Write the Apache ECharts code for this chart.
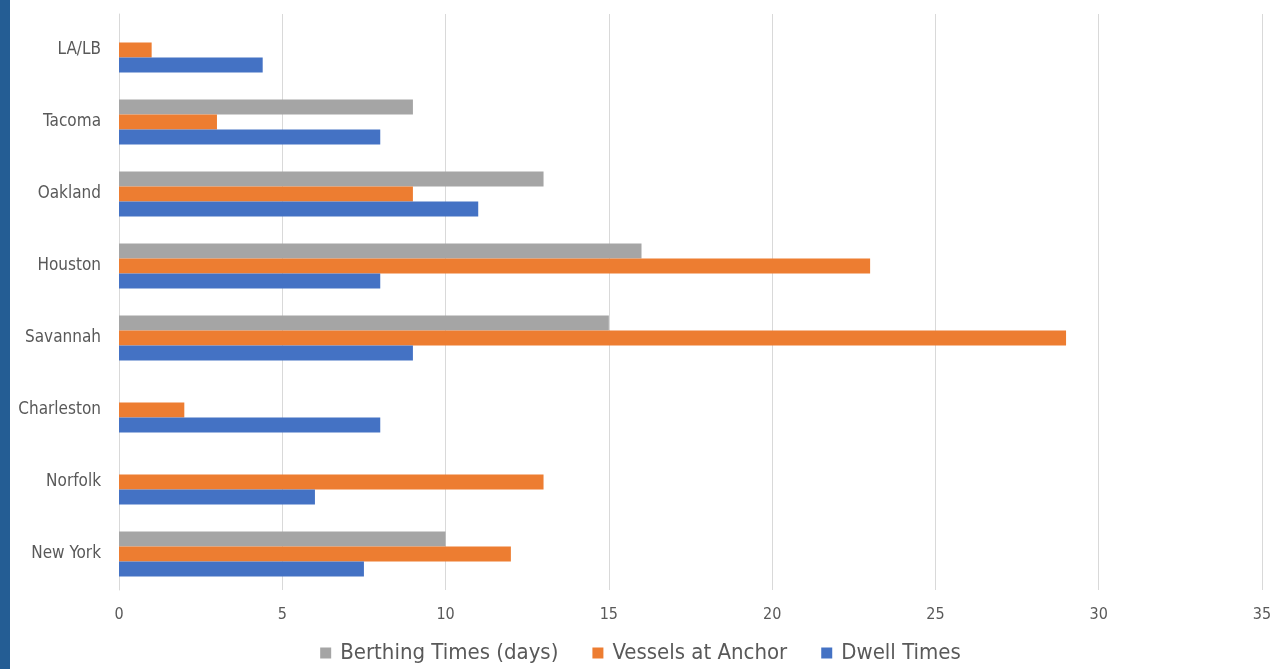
<!DOCTYPE html>
<html>
<head>
<meta charset="utf-8">
<script src="https://cdn.jsdelivr.net/npm/echarts@6/dist/echarts.min.js"></script>
<style>
html,body{margin:0;padding:0;background:#fff;}
#c{width:1281px;height:669px;}
</style>
</head>
<body>
<div id="c"></div>
<script>
const categories = ['New York', 'Norfolk', 'Charleston', 'Savannah', 'Houston', 'Oakland', 'Tacoma', 'LA/LB'];
const berthingTimes = [10, null, null, 15, 16, 13, 9, null];
const vesselsAtAnchor = [12, 13, 2, 29, 23, 9, 3, 1];
const dwellTimes = [7.5, 6, 8, 9, 8, 11, 8, 4.4];
const xTicks = { min: 0, max: 35, interval: 5 };

const FONT = '"Liberation Sans Narrow", "DejaVu Sans Condensed", "Open Sans", sans-serif';
const chart = echarts.init(document.getElementById('c'));
chart.setOption({
  backgroundColor: '#ffffff',
  animation: false,
  graphic: [{ type: 'rect', left: 0, top: 0, shape: { width: 10, height: 669 }, style: { fill: '#245d94' } }],
  grid: { left: 119, right: 19, top: 14, bottom: 79 },
  legend: {
    bottom: 0,
    left: 'center',
    data: ['Berthing Times (days)', 'Vessels at Anchor', 'Dwell Times'],
    itemWidth: 11, itemHeight: 11, itemGap: 34,
    icon: 'rect',
    textStyle: { fontFamily: FONT, fontSize: 22, color: '#595959', padding: [0, 0, 0, 4] }
  },
  xAxis: {
    type: 'value', min: xTicks.min, max: xTicks.max, interval: xTicks.interval,
    axisLine: { show: false }, axisTick: { show: false },
    axisLabel: { fontFamily: FONT, fontSize: 16, color: '#595959', margin: 17 },
    splitLine: { lineStyle: { color: '#d9d9d9', width: 1 } }
  },
  yAxis: {
    type: 'category', data: categories,
    axisLine: { show: true, lineStyle: { color: '#d9d9d9' } }, axisTick: { show: false },
    axisLabel: { fontFamily: FONT, fontSize: 17, color: '#595959', margin: 18 }
  },
  series: [
    { name: 'Berthing Times (days)', type: 'bar', data: berthingTimes, barWidth: 15, barGap: '0%', itemStyle: { color: '#a5a5a5' } },
    { name: 'Vessels at Anchor', type: 'bar', data: vesselsAtAnchor, barWidth: 15, barGap: '0%', itemStyle: { color: '#ed7d31' } },
    { name: 'Dwell Times', type: 'bar', data: dwellTimes, barWidth: 15, barGap: '0%', itemStyle: { color: '#4472c4' } }
  ]
});
</script>
</body>
</html>
